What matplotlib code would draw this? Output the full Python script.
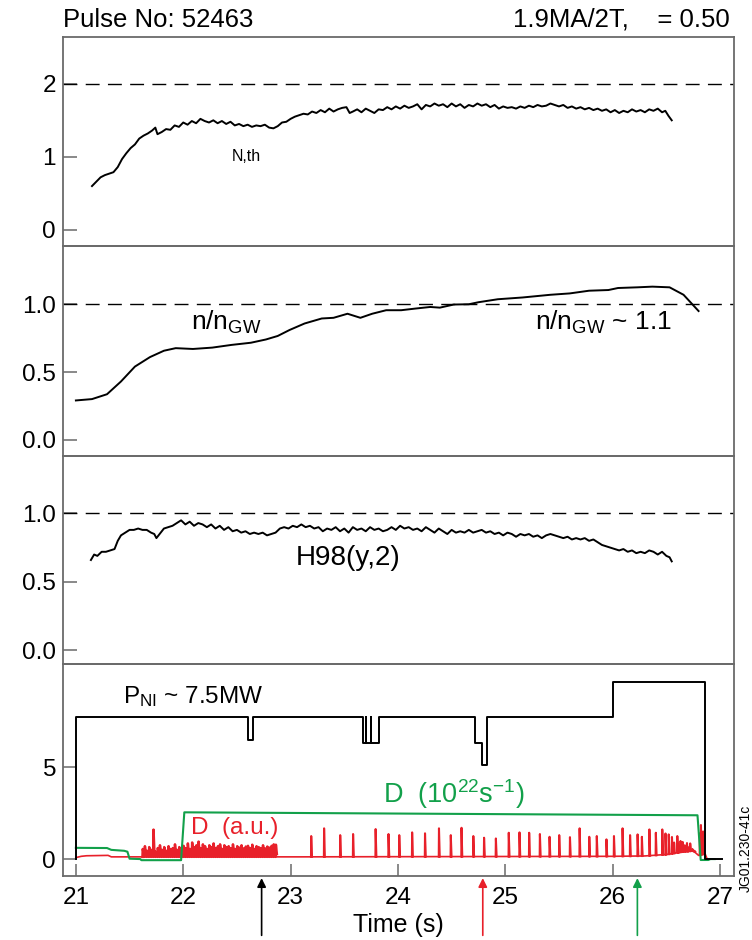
import numpy as np
import matplotlib
matplotlib.use("Agg")
import matplotlib.pyplot as plt
from matplotlib import font_manager

names = {f.name for f in font_manager.fontManager.ttflist}
FAM = ['Liberation Sans Narrow', 'Liberation Sans', 'DejaVu Sans']
FAM = [f for f in FAM if f in names] or ['DejaVu Sans']
plt.rcParams['font.family'] = FAM
plt.rcParams['mathtext.default'] = 'regular'

# ---------------- data ----------------
beta_t = [21.15,21.19,21.23,21.27,21.31,21.35,21.39,21.43,21.47,21.51,21.55,21.59,21.63,21.67,21.71,21.74,21.76,21.80,21.84,21.88,
          21.92,21.96,22.00,22.04,22.08,22.12,22.16,22.20,22.24,22.28,22.32,22.36,22.40,22.44,22.48,22.52,22.56,22.60,22.64,22.68,
          22.72,22.76,22.80,22.84,22.88,22.92,22.96,23.00,23.04,23.08,23.12,23.16,23.20,23.24,23.28,23.32,23.36,23.40,23.44,23.48,
          23.52,23.55,23.58,23.62,23.66,23.70,23.74,23.78,23.82,23.86,23.90,23.94,23.98,24.02,24.06,24.10,24.14,24.18,24.22,24.26,
          24.30,24.34,24.38,24.42,24.46,24.50,24.54,24.58,24.62,24.66,24.70,24.74,24.78,24.82,24.86,24.90,24.94,24.98,25.02,25.06,
          25.10,25.14,25.18,25.22,25.26,25.30,25.34,25.38,25.42,25.46,25.50,25.54,25.58,25.62,25.66,25.70,25.74,25.78,25.82,25.86,
          25.90,25.94,25.98,26.02,26.06,26.10,26.14,26.18,26.22,26.26,26.30,26.34,26.38,26.42,26.46,26.49,26.52,26.55]
beta_v = [0.60,0.66,0.72,0.75,0.77,0.79,0.86,0.97,1.05,1.12,1.17,1.25,1.29,1.32,1.36,1.40,1.31,1.34,1.38,1.37,
          1.43,1.41,1.47,1.44,1.49,1.46,1.52,1.49,1.47,1.50,1.46,1.49,1.45,1.48,1.43,1.45,1.42,1.44,1.41,1.43,
          1.42,1.44,1.40,1.39,1.42,1.47,1.48,1.52,1.55,1.57,1.59,1.58,1.62,1.60,1.64,1.61,1.66,1.62,1.65,1.67,
          1.68,1.60,1.62,1.65,1.61,1.66,1.63,1.60,1.65,1.64,1.68,1.65,1.69,1.66,1.70,1.67,1.69,1.72,1.65,1.71,
          1.69,1.73,1.70,1.72,1.68,1.73,1.69,1.72,1.67,1.71,1.69,1.73,1.70,1.72,1.68,1.71,1.66,1.69,1.67,1.68,
          1.66,1.69,1.67,1.70,1.68,1.71,1.69,1.70,1.73,1.71,1.69,1.71,1.67,1.69,1.66,1.68,1.65,1.67,1.64,1.66,
          1.63,1.65,1.61,1.64,1.60,1.63,1.61,1.65,1.62,1.64,1.61,1.65,1.63,1.66,1.61,1.63,1.56,1.50]

ngw_t = [21.00,21.15,21.29,21.42,21.55,21.69,21.82,21.93,22.09,22.27,22.45,22.63,22.77,22.88,22.99,23.13,23.29,23.40,23.53,23.65,
         23.76,23.89,24.03,24.16,24.30,24.39,24.52,24.66,24.75,24.93,25.16,25.42,25.60,25.78,25.96,26.05,26.23,26.37,26.53,26.66,26.80]
ngw_v = [0.29,0.30,0.336,0.43,0.54,0.61,0.657,0.676,0.67,0.68,0.70,0.716,0.74,0.766,0.81,0.858,0.895,0.90,0.93,0.90,
         0.93,0.956,0.956,0.968,0.98,0.975,0.998,1.00,1.015,1.037,1.05,1.07,1.08,1.10,1.105,1.12,1.125,1.13,1.125,1.07,0.95]

h98_t = [21.14,21.17,21.20,21.24,21.28,21.32,21.36,21.39,21.42,21.46,21.50,21.54,21.58,21.62,21.66,21.70,21.73,21.75,21.78,21.82,
         21.86,21.90,21.94,21.98,22.02,22.06,22.10,22.14,22.18,22.22,22.26,22.30,22.34,22.38,22.42,22.46,22.50,22.54,22.58,22.62,
         22.66,22.70,22.74,22.78,22.82,22.86,22.90,22.94,22.98,23.02,23.06,23.10,23.14,23.18,23.22,23.26,23.30,23.34,23.38,23.42,
         23.46,23.50,23.54,23.58,23.62,23.66,23.70,23.74,23.78,23.82,23.86,23.90,23.94,23.98,24.02,24.06,24.10,24.14,24.18,24.22,
         24.26,24.30,24.34,24.38,24.42,24.46,24.50,24.54,24.58,24.62,24.66,24.70,24.74,24.78,24.82,24.86,24.90,24.94,24.98,25.02,
         25.06,25.10,25.14,25.18,25.22,25.26,25.30,25.34,25.38,25.42,25.46,25.50,25.54,25.58,25.62,25.66,25.70,25.74,25.78,25.82,
         25.86,25.90,25.94,25.98,26.02,26.06,26.10,26.14,26.18,26.22,26.26,26.30,26.34,26.38,26.42,26.46,26.50,26.53,26.55]
h98_v = [0.66,0.70,0.69,0.72,0.72,0.73,0.74,0.80,0.84,0.86,0.88,0.88,0.89,0.88,0.88,0.86,0.85,0.82,0.85,0.89,
         0.90,0.91,0.93,0.95,0.92,0.94,0.91,0.93,0.92,0.90,0.92,0.89,0.91,0.88,0.90,0.87,0.88,0.86,0.87,0.85,
         0.86,0.85,0.86,0.84,0.85,0.86,0.89,0.90,0.89,0.91,0.90,0.92,0.90,0.91,0.89,0.90,0.87,0.89,0.88,0.90,
         0.87,0.89,0.86,0.90,0.88,0.89,0.87,0.90,0.88,0.89,0.87,0.88,0.90,0.88,0.91,0.89,0.90,0.88,0.89,0.87,
         0.90,0.88,0.86,0.89,0.87,0.85,0.88,0.86,0.87,0.86,0.88,0.86,0.87,0.88,0.86,0.87,0.85,0.86,0.84,0.86,
         0.85,0.83,0.85,0.84,0.85,0.83,0.84,0.82,0.84,0.85,0.84,0.83,0.82,0.83,0.81,0.82,0.81,0.82,0.80,0.81,
         0.79,0.77,0.76,0.75,0.74,0.73,0.74,0.72,0.73,0.71,0.72,0.71,0.73,0.72,0.70,0.72,0.69,0.68,0.65]

# NBI power (MW), step function
pni_t = [21.0, 21.0, 22.60, 22.65, 23.67, 23.70, 23.705, 23.745, 23.75, 23.82, 24.72, 24.78, 24.83, 26.0, 26.86, 27.02]
pni_v = [0.0, 7.7, 6.47, 7.7, 6.32, 7.7, 6.32, 7.7, 6.32, 7.7, 6.32, 5.11, 7.7, 9.62, 0.0, 0.0]

# gas fuelling (1e22 /s)
gas_t = [21.0, 21.29, 21.33, 21.45, 21.48, 21.50, 21.60, 21.61, 21.98, 22.01, 26.79, 26.82, 26.89, 26.91, 26.95]
gas_v = [0.61, 0.60, 0.50, 0.45, 0.40, 0.02, 0.0, -0.06, -0.06, 2.54, 2.38, -0.05, -0.05, 0.0, 0.0]

# D-alpha baseline (a.u.)
da_base_t = [21.0, 21.05, 21.10, 21.30, 21.33, 21.60, 22.87, 23.10, 24.00, 25.00, 26.00, 26.30, 26.50, 26.65, 26.75, 26.79, 26.80, 26.86, 26.88, 26.95]
da_base_v = [0.08, 0.15, 0.18, 0.20, 0.12, 0.12, 0.12, 0.12, 0.13, 0.14, 0.15, 0.17, 0.25, 0.40, 0.45, 0.25, 0.20, 0.30, 0.0, 0.0]

# dense ELMy phase 21.62-22.86 s (peak heights)
dense_start, dense_end = 21.62, 22.86
dense_h = [0.55,0.70,0.45,0.65,0.50,1.60,0.40,0.60,0.75,0.50,0.65,0.45,0.70,0.55,0.60,0.80,0.50,0.65,0.55,0.72,0.60,
           0.85,0.55,0.90,0.65,0.75,0.95,0.60,0.80,0.70,0.55,0.75,0.65,0.85,0.60,0.70,0.80,0.55,0.75,0.65,0.70,0.60,
           0.80,0.55,0.70,0.62,0.75,0.58,0.68,0.72,0.60,0.78,0.55,0.70,0.65,0.60,0.75,0.58,0.68,0.62,0.72,0.80,0.78]

# isolated type-I ELMs
elm_t = [23.19,23.31,23.46,23.58,23.79,23.91,24.01,24.13,24.25,24.38,24.49,24.59,24.70,24.80,24.91,25.03,25.13,25.22,25.32,25.41,
         25.50,25.60,25.69,25.78,25.85,25.94,26.01,26.09,26.16,26.23,26.27,26.34,26.40,26.46,26.49,26.52,26.55,26.57,26.60,26.61,
         26.63,26.65,26.67,26.69,26.70,26.72,26.74,26.76,26.81,26.82,26.84]
elm_h = [1.25,1.67,1.30,1.36,1.63,1.36,1.30,1.45,1.40,1.67,1.30,1.70,1.25,1.16,1.12,1.43,1.45,1.43,1.36,1.21,
         1.30,1.19,1.67,1.21,1.25,1.07,1.25,1.67,1.30,1.34,1.21,1.61,1.43,1.61,1.39,1.34,1.20,0.90,1.25,0.85,
         0.98,0.93,0.75,0.87,0.65,0.85,0.55,0.45,1.40,1.85,1.50]

arrow_t = [22.73, 24.79, 26.23]
arrow_c = ['black', '#e8202a', '#12a04a']

# ---------------- figure ----------------
W, H = 752, 940
fig = plt.figure(figsize=(W/100, H/100), dpi=100)

def rect(top, bot, left=63, right=734):
    return [left/W, (H-bot)/H, (right-left)/W, (bot-top)/H]

ax1 = fig.add_axes(rect(37, 246))
ax2 = fig.add_axes(rect(246, 456))
ax3 = fig.add_axes(rect(456, 664))
ax4 = fig.add_axes(rect(664, 876))
axes = [ax1, ax2, ax3, ax4]

SP = '#6a6a6a'
TFS = 17.5
for ax in axes:
    ax.set_xlim(20.88, 27.13)
    for s in ax.spines.values():
        s.set_color(SP)
        s.set_linewidth(1.3)
    ax.tick_params(axis='y', direction='in', length=10, width=1.1, color=SP, labelsize=TFS, pad=5)
    ax.tick_params(axis='x', direction='in', length=9, width=1.1, color=SP, labelsize=TFS, pad=8)
    ax.set_facecolor('none')

for ax in axes[:3]:
    ax.tick_params(axis='x', bottom=False, labelbottom=False)

LW = 1.4
# panel 1
ax1.set_ylim(-0.22, 2.64)
ax1.set_yticks([0, 1, 2])
ax1.axhline(2, color='black', lw=1.0, dashes=(10, 6))
ax1.plot(beta_t, beta_v, color='black', lw=LW)
ax1.text(22.59, 1.0, 'N,th', fontsize=11.5, ha='center', va='center')

# panel 2
ax2.set_ylim(-0.12, 1.43)
ax2.set_yticks([0.0, 0.5, 1.0])
ax2.set_yticklabels(['0.0', '0.5', '1.0'])
ax2.axhline(1.0, color='black', lw=1.0, dashes=(10, 6))
ax2.plot(ngw_t, ngw_v, color='black', lw=LW)
ax2.text(22.07, 0.81, r'n/n$_{GW}$', fontsize=19, ha='left', va='baseline')
ax2.text(25.28, 0.81, r'n/n$_{GW}$ ~ 1.1', fontsize=19, ha='left', va='baseline')

# panel 3
ax3.set_ylim(-0.10, 1.42)
ax3.set_yticks([0.0, 0.5, 1.0])
ax3.set_yticklabels(['0.0', '0.5', '1.0'])
ax3.axhline(1.0, color='black', lw=1.0, dashes=(10, 6))
ax3.plot(h98_t, h98_v, color='black', lw=LW)
ax3.text(23.05, 0.62, 'H98(y,2)', fontsize=20, ha='left', va='baseline')

# panel 4
RED = '#e8202a'
GRN = '#12a04a'
ax4.set_ylim(-0.92, 10.6)
ax4.set_yticks([0, 5])
ax4.set_xticks([21, 22, 23, 24, 25, 26, 27])

# D-alpha: baseline + spikes
ax4.plot(da_base_t, da_base_v, color=RED, lw=1.2, zorder=2)
dense_t = np.linspace(dense_start, dense_end, len(dense_h))
zx, zy = [], []
for t, h in zip(dense_t, dense_h):
    b = float(np.interp(t, da_base_t, da_base_v))
    zx += [t, t + 0.003, t + 0.012]
    zy += [b, h, b + 0.15]
ax4.plot(zx, zy, color=RED, lw=1.8, zorder=2)
for t, h in zip(elm_t, elm_h):
    b = float(np.interp(t, da_base_t, da_base_v))
    ax4.plot([t, t + 0.002, t + 0.009], [b, h, b], color=RED, lw=1.5, zorder=2)

ax4.plot(gas_t, gas_v, color=GRN, lw=1.5, zorder=3)
ax4.plot(pni_t, pni_v, color='black', lw=LW, drawstyle='steps-post', zorder=4)

ax4.text(21.44, 8.46, r'P$_{NI}$ ~ 7.5MW', fontsize=17.5, ha='left', va='baseline')
ax4.text(23.86, 3.06, r'D  (10$^{22}$s$^{-1}$)', fontsize=19.5, ha='left', va='baseline', color=GRN)
ax4.text(22.07, 1.36, 'D  (a.u.)', fontsize=17.5, ha='left', va='baseline', color=RED)
ax4.set_xlabel('Time (s)', fontsize=18, labelpad=3)

for t, c in zip(arrow_t, arrow_c):
    ax4.annotate('', xy=(t, -0.01), xytext=(t, -0.28),
                 xycoords=('data', 'axes fraction'), textcoords=('data', 'axes fraction'),
                 arrowprops=dict(arrowstyle='-|>', color=c, lw=1.2, mutation_scale=13,
                                 shrinkA=0, shrinkB=0), annotation_clip=False)

# header
fig.text(63/W, 1 - 27/H, 'Pulse No: 52463', fontsize=18.5, ha='left', va='baseline')
fig.text(730/W, 1 - 27/H, '1.9MA/2T,    = 0.50', fontsize=18.5, ha='right', va='baseline')
fig.text(746/W, 1 - 848/H, 'JG01.230-41c', fontsize=10, rotation=90, ha='center', va='center')

fig.savefig('out.png', dpi=100)
